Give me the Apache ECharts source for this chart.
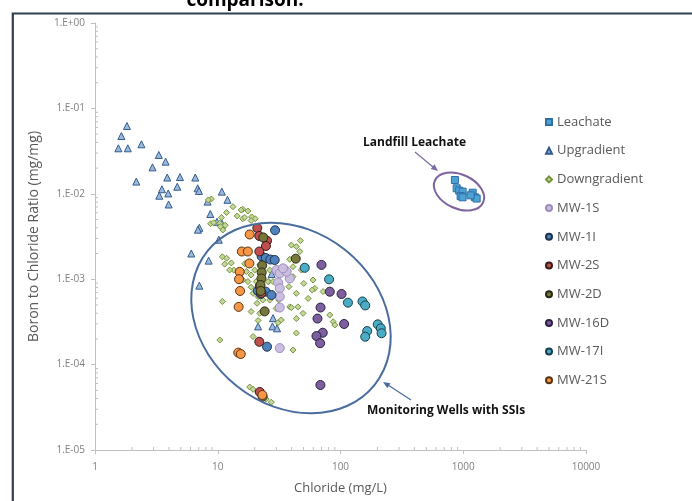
<!DOCTYPE html>
<html>
<head>
<meta charset="utf-8">
<script src="https://cdn.jsdelivr.net/npm/echarts@6/dist/echarts.min.js"></script>
<style>
  html, body { margin: 0; padding: 0; background: #fff; }
  #chart { width: 692px; height: 501px; }
</style>
</head>
<body>
<div id="chart"></div>
<script>
// data: [chloride mg/L, boron/chloride ratio]
var leachate = [[855,0.0145],[884,0.0116],[927,0.0109],[988,0.0106],[952,0.0094],[988,0.0091],
  [1193,0.0103],[1245,0.0091],[1286,0.0088],[1149,0.0096]];

var upgradient = [[1.82,0.0622],[1.64,0.0475],[1.55,0.0341],[1.85,0.0341],[2.39,0.038],[3.31,0.0285],
  [3.76,0.0238],[2.94,0.0204],[2.17,0.0139],[3.88,0.0155],[4.92,0.0157],[6.56,0.0155],[3.51,0.0113],
  [4.68,0.0121],[3.95,0.0101],[3.34,0.0095],[3.98,0.0075],[6.86,0.0116],[7.03,0.0108],[10.8,0.0106],
  [12.0,0.0085],[8.27,0.0081],[8.70,0.0058],[9.85,0.0047],[10.2,0.0029],[7.08,0.0040],[6.09,0.0020],
  [8.43,0.00165],[7.08,0.00084],[10.8,0.0045],[6.90,0.0038],[27.5,0.00115],[21.3,0.00028],
  [28.2,0.00035],[27.9,0.00028],[30.4,0.000266],[22.4,0.0009]];

var downgradient = [[8.87,0.00869],[8.38,0.00846],[11.8,0.00604],[13.3,0.00706],[16.0,0.00659],
  [17.6,0.00629],[18.9,0.00537],[20.2,0.0051],[14.4,0.0055],[16.0,0.0051],[10.7,0.00528],[10.4,0.00451],
  [11.5,0.00428],[10.9,0.00393],[8.75,0.00446],[10.9,0.00183],[11.4,0.0015],[15.5,0.00646],[16.6,0.00528],
  [18.7,0.00487],[9.26,0.00458],[10.5,0.00413],[11.0,0.00377],[11.8,0.00176],[12.9,0.00155],[13.5,0.00128],
  [15.1,0.00108],[16.0,0.000979],[17.6,0.000938],[20.0,0.00128],[22.0,0.00147],[23.3,0.00112],
  [26.0,0.000938],[26.5,0.00128],[12.5,0.00128],[16.6,0.00152],[17.1,0.00123],[18.7,0.00112],
  [20.6,0.000938],[18.7,0.000806],[19.4,0.000683],[21.3,0.000625],[23.3,0.000571],[26.5,0.000571],
  [20.9,0.000522],[10.9,0.000548],[18.7,0.000418],[21.3,0.000328],[22.0,0.000398],[24.1,0.000436],
  [25.7,0.000938],[28.2,0.000938],[39.8,0.00251],[43.7,0.00241],[47.1,0.00283],[46.6,0.00211],
  [41.0,0.0014],[37.3,0.00124],[41.0,0.00107],[48.0,0.00128],[50.2,0.000893],[59.7,0.000979],
  [61.7,0.000781],[54.5,0.000595],[43.7,0.000683],[38.6,0.000474],[45.0,0.000474],[43.7,0.000346],
  [49.5,0.000398],[58.8,0.000748],[72.1,0.000717],[81.8,0.000381],[87.2,0.000318],[89.9,0.000291],
  [43.7,0.000234],[41.0,0.000148],[10.4,0.000194],[19.4,0.000213],[31.0,0.00031],[31.4,0.000571],
  [29.9,0.000454],[38.6,0.00171],[38.0,0.000817],[39.8,0.000464],[32.9,0.000333],[18.2,0.0000546],
  [19.4,0.0000514],[24.8,0.0000395],[27.3,0.0000363],[21.2,0.0000478]];

var mw1s = [[30.1,0.00128],[34.9,0.0013],[32.0,0.00117],[38.6,0.00102],[31.0,0.000914],[32.0,0.000781],
  [32.0,0.000625],[32.0,0.000466],[32.0,0.000156],[36.4,0.00122],[34.0,0.00134]];
var mw1i = [[29.3,0.00374],[22.8,0.00185],[24.6,0.00177],[26.8,0.0017],[29.1,0.00168],[21.2,0.000731],
  [24.6,0.000715],[27.4,0.000653],[22.4,0.000671],[25.2,0.000162]];
var mw2s = [[21.0,0.00398],[21.8,0.00321],[25.2,0.00282],[24.7,0.00245],[21.8,0.00211],[22.0,0.00082],
  [22.7,0.00069],[21.8,0.000185],[22.0,0.0000478]];
var mw2d = [[23.5,0.00308],[23.0,0.00145],[22.8,0.0012],[22.7,0.00102],[22.3,0.000856],[22.4,0.000728],
  [24.1,0.00042],[43.2,0.00174],[23.2,0.0000421]];
var mw16d = [[70.0,0.00147],[81.8,0.000714],[102,0.000671],[68.8,0.000466],[64.9,0.000346],[107,0.000299],
  [71.7,0.000236],[63.7,0.000216],[68.2,0.000178],[68.6,0.0000577]];
var mw17i = [[51.1,0.00136],[80.7,0.000997],[115,0.000531],[151,0.000549],[159,0.000493],[165,0.000247],
  [159,0.000212],[201,0.000296],[213,0.000266],[216,0.000233]];
var mw21s = [[18.2,0.00334],[15.7,0.00211],[17.6,0.00211],[18.1,0.00153],[15.1,0.00122],[14.9,0.001],
  [15.2,0.000728],[14.8,0.000474],[14.7,0.000138],[15.4,0.000133],[23.1,0.0000441]];

var legendNames = ['Leachate','Upgradient','Downgradient','MW-1S','MW-1I','MW-2S','MW-2D','MW-16D','MW-17I','MW-21S'];

// axis ranges
var xMin = 1, xMax = 10000;
var yMin = 1e-5, yMax = 1;

var FONT = "'Open Sans', 'DejaVu Sans', sans-serif";
var AXIS_GREY = '#c0c0c0';

// minor ticks at 2..9 of each decade (excel style)
var minorX = [], minorY = [];
for (var k = 0; k < 4; k++) for (var m = 2; m < 10; m++) minorX.push([m * Math.pow(10, k), yMin]);
for (var j = -5; j < 0; j++) for (var n = 2; n < 10; n++) minorY.push([xMin, n * Math.pow(10, j)]);

function sci(v) {
  var e = Math.round(Math.log10(v));
  var s = Math.abs(e) < 10 ? '0' + Math.abs(e) : '' + Math.abs(e);
  return '1.E' + (e < 0 ? '-' : '+') + s;
}

function sc(name, data, symbol, size, fill, stroke) {
  return {
    name: name, type: 'scatter', data: data, symbol: symbol, symbolSize: size,
    itemStyle: { color: fill, borderColor: stroke, borderWidth: 1, opacity: 1 },
    emphasis: { disabled: true }, silent: true, z: 3
  };
}

function minorTicks(data, horiz) {
  return {
    type: 'custom', silent: true, clip: false, z: 1, data: data,
    renderItem: function (params, api) {
      var p = api.coord([api.value(0), api.value(1)]);
      return {
        type: 'line',
        shape: horiz ? { x1: p[0], y1: p[1], x2: p[0] + 3, y2: p[1] }
                     : { x1: p[0], y1: p[1], x2: p[0], y2: p[1] - 3 },
        style: { stroke: AXIS_GREY, lineWidth: 1 }
      };
    }
  };
}

var chart = echarts.init(document.getElementById('chart'));

var option = {
  animation: false,
  textStyle: { fontFamily: FONT },
  grid: { left: 95, right: 106, top: 23, bottom: 51 },
  legend: {
    data: legendNames,
    orient: 'vertical', left: 540, top: 109,
    itemWidth: 6, itemHeight: 6, itemGap: 12.7,
    textStyle: { color: '#595959', fontSize: 13, lineHeight: 16, fontFamily: FONT },
    selectedMode: false
  },
  xAxis: {
    type: 'log', logBase: 10, min: xMin, max: xMax,
    name: 'Chloride (mg/L)', nameLocation: 'middle', nameGap: 32,
    nameTextStyle: { color: '#595959', fontSize: 13 },
    axisLine: { lineStyle: { color: AXIS_GREY } },
    axisTick: { length: 4, lineStyle: { color: AXIS_GREY } },
    axisLabel: { color: '#7f7f7f', fontSize: 10, margin: 12, formatter: function (v) { return '' + Math.round(v); } },
    splitLine: { show: false }
  },
  yAxis: {
    type: 'log', logBase: 10, min: yMin, max: yMax,
    name: 'Boron to Chloride Ratio (mg/mg)', nameLocation: 'middle', nameGap: 54,
    nameTextStyle: { color: '#595959', fontSize: 14 },
    axisLine: { lineStyle: { color: AXIS_GREY } },
    axisTick: { length: 4, lineStyle: { color: AXIS_GREY } },
    axisLabel: { color: '#7f7f7f', fontSize: 10, margin: 10, formatter: sci },
    splitLine: { show: false }
  },
  series: [
    minorTicks(minorX, false),
    minorTicks(minorY, true),
    sc('Leachate', leachate, 'rect', 7, '#4aa3d3', '#2f6ea6'),
    sc('Upgradient', upgradient, 'triangle', 7, '#9cb9dc', '#335b8c'),
    sc('Downgradient', downgradient, 'diamond', 6, '#c4d79b', '#76923c'),
    sc('MW-1S', mw1s, 'circle', 9, '#cbbfe0', '#9e8cc0'),
    sc('MW-1I', mw1i, 'circle', 9, '#4f81bd', '#1c3350'),
    sc('MW-2S', mw2s, 'circle', 9, '#c0504d', '#3a1a19'),
    sc('MW-2D', mw2d, 'circle', 9, '#77773c', '#2a2a14'),
    sc('MW-16D', mw16d, 'circle', 9, '#7d5fa0', '#2b2040'),
    sc('MW-17I', mw17i, 'circle', 9, '#4bacc6', '#173f4a'),
    sc('MW-21S', mw21s, 'circle', 9, '#f79646', '#5a3311')
  ],
  graphic: [
    { type: 'polyline', silent: true, shape: { points: [[12.8, 501], [12.8, 13.5], [692, 13.5]] },
      style: { stroke: '#2e3f51', lineWidth: 2.2, fill: null } },
    { type: 'text', silent: true, x: 245, y: 10,
      style: { text: 'comparison.', font: "bold 19px 'Open Sans', sans-serif", fill: '#000',
               textAlign: 'center', textVerticalAlign: 'bottom' } },
    { type: 'ellipse', silent: true, x: 291, y: 318, rotation: -38.6 * Math.PI / 180,
      shape: { cx: 0, cy: 0, rx: 107, ry: 87 },
      style: { fill: null, stroke: '#4a6d9f', lineWidth: 2 }, z: 10 },
    { type: 'ellipse', silent: true, x: 459, y: 191.5, rotation: -24.5 * Math.PI / 180,
      shape: { cx: 0, cy: 0, rx: 26.5, ry: 17 },
      style: { fill: null, stroke: '#8064a2', lineWidth: 2 }, z: 10 },
    { type: 'line', silent: true, shape: { x1: 415, y1: 152, x2: 433, y2: 167 },
      style: { stroke: '#7d6aa6', lineWidth: 1.2 }, z: 10 },
    { type: 'polygon', silent: true, shape: { points: [[438, 171], [430.7, 168.9], [434.5, 164.3]] },
      style: { fill: '#7d6aa6' }, z: 10 },
    { type: 'line', silent: true, shape: { x1: 411, y1: 400, x2: 388, y2: 385 },
      style: { stroke: '#4a6d9f', lineWidth: 1.2 }, z: 10 },
    { type: 'polygon', silent: true, shape: { points: [[383, 382], [390.5, 383.3], [387.3, 388.3]] },
      style: { fill: '#4a6d9f' }, z: 10 },
    { type: 'text', silent: true, x: 363, y: 143,
      style: { text: 'Landfill Leachate', font: "bold 12px 'Open Sans', sans-serif", fill: '#111',
               textAlign: 'left', textVerticalAlign: 'middle' }, z: 10 },
    { type: 'text', silent: true, x: 367, y: 411,
      style: { text: 'Monitoring Wells with SSIs', font: "bold 12px 'Open Sans', sans-serif", fill: '#111',
               textAlign: 'left', textVerticalAlign: 'middle' }, z: 10 }
  ]
};

chart.setOption(option);
</script>
</body>
</html>
